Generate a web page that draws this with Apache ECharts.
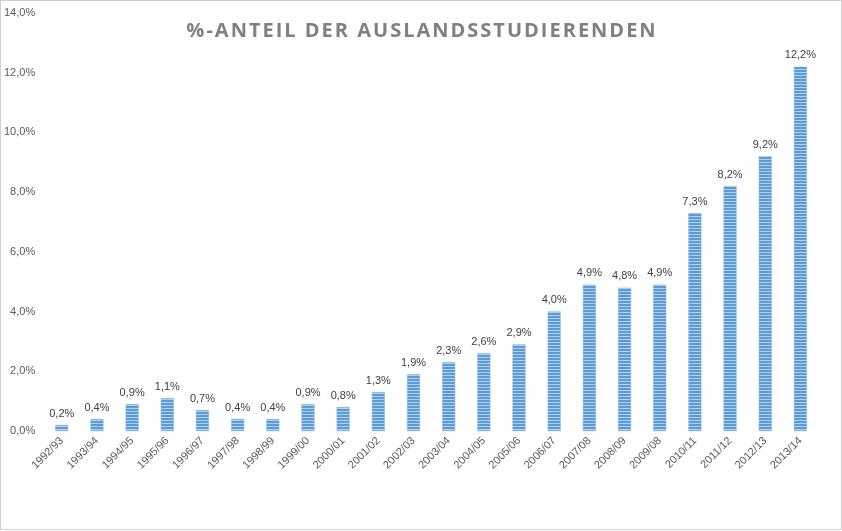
<!DOCTYPE html>
<html><head><meta charset="utf-8">
<script src="https://cdn.jsdelivr.net/npm/echarts@6/dist/echarts.min.js"></script>
<style>html,body{margin:0;padding:0;background:#fff}#c{position:absolute;left:0;top:0;width:840px;height:528px;border:1px solid #d0d0d0;}</style>
</head><body><div id="c"></div>
<script>
const categories = ['1992/93','1993/94','1994/95','1995/96','1996/97','1997/98','1998/99','1999/00','2000/01','2001/02','2002/03','2003/04','2004/05','2005/06','2006/07','2007/08','2008/09','2009/08','2010/11','2011/12','2012/13','2013/14'];
const shares = [0.2,0.4,0.9,1.1,0.7,0.4,0.4,0.9,0.8,1.3,1.9,2.3,2.6,2.9,4.0,4.9,4.8,4.9,7.3,8.2,9.2,12.2];
const yTicks = [0,2,4,6,8,10,12,14];
const titleText = '%-ANTEIL DER AUSLANDSSTUDIERENDEN';

const fmt = v => v.toFixed(1).replace('.', ',') + '%';
const pat = document.createElement('canvas');
pat.width = 4; pat.height = 3;
const pc = pat.getContext('2d');
pc.fillStyle = '#b4d2ef'; pc.fillRect(0,0,4,3);
pc.fillStyle = '#5b9bd5'; pc.fillRect(0,0,4,2);

const chart = echarts.init(document.getElementById('c'));
chart.setOption({
  animation: false,
  title: {
    text: titleText.split('').join('\u200A'),
    left: 'center', top: 15,
    textStyle: {fontFamily: 'Open Sans', fontWeight: 'bold', fontSize: 20, color: '#808080'}
  },
  grid: {left: 43, right: 23, top: 12, bottom: 98, containLabel: false},
  xAxis: {
    type: 'category', data: categories,
    axisLine: {show: false}, axisTick: {show: false},
    axisLabel: {rotate: 45, interval: 0, margin: 8, fontFamily: 'Liberation Sans', fontSize: 11, color: '#595959'}
  },
  yAxis: {
    type: 'value', min: yTicks[0], max: yTicks[yTicks.length-1], interval: 2,
    splitLine: {show: false}, axisLine: {show: false}, axisTick: {show: false},
    axisLabel: {formatter: v => fmt(v), margin: 9, fontFamily: 'Liberation Sans', fontSize: 11, color: '#595959'}
  },
  series: [{
    type: 'bar', data: shares, barWidth: 13,
    itemStyle: {color: {image: pat, repeat: 'repeat'}, borderColor: '#7fb2e3', borderWidth: 0.5},
    label: {show: true, position: 'top', distance: 6, formatter: p => fmt(p.value), fontFamily: 'Liberation Sans', fontSize: 11, color: '#404040'}
  }]
});
</script></body></html>
